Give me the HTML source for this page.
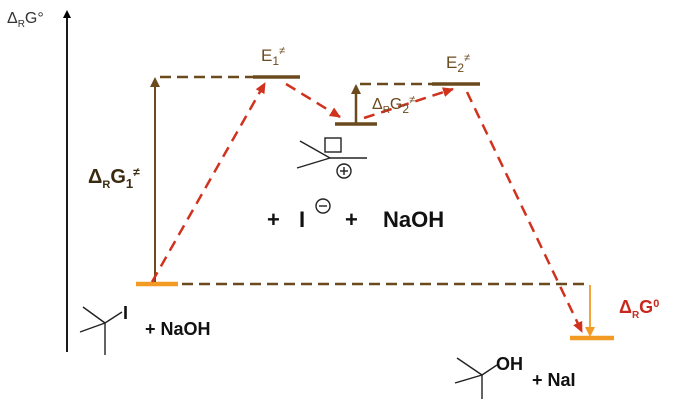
<!DOCTYPE html>
<html><head><meta charset="utf-8"><style>
html,body{margin:0;padding:0;background:#fff;}
svg{display:block;}
text{font-family:"Liberation Sans",sans-serif;}
</style></head><body>
<svg width="693" height="402" viewBox="0 0 693 402" xmlns="http://www.w3.org/2000/svg">
<defs>
<marker id="ab" markerWidth="8" markerHeight="8" refX="6" refY="4" orient="auto" markerUnits="userSpaceOnUse"><path d="M0,0 L8,4 L0,8 z" fill="#000"/></marker>
<marker id="br" markerWidth="10" markerHeight="10" refX="8" refY="5" orient="auto" markerUnits="userSpaceOnUse"><path d="M0,0 L10,5 L0,10 z" fill="#6b4a1e"/></marker>
<marker id="rd" markerWidth="12" markerHeight="12" refX="10" refY="6" orient="auto" markerUnits="userSpaceOnUse"><path d="M0,1 L11,6 L0,11 z" fill="#d0321e"/></marker>
<marker id="or" markerWidth="10" markerHeight="10" refX="8" refY="5" orient="auto" markerUnits="userSpaceOnUse"><path d="M0,0 L10,5 L0,10 z" fill="#f39a24"/></marker>
</defs>
<line x1="67" y1="352" x2="67" y2="12" stroke="#000" stroke-width="1.8" marker-end="url(#ab)"/>
<text x="7" y="23" font-size="16" fill="#333">Δ<tspan font-size="10" dy="4">R</tspan><tspan dy="-4">G°</tspan></text>
<g stroke="#6b4a1e" stroke-width="2.5" stroke-dasharray="11,6" fill="none">
<line x1="160" y1="77" x2="255" y2="77"/>
<line x1="360" y1="84" x2="432" y2="84"/>
<line x1="182" y1="284" x2="590" y2="284"/>
</g>
<g stroke="#6b4a1e" stroke-width="3.5">
<line x1="253" y1="77" x2="300" y2="77"/>
<line x1="335" y1="124" x2="377" y2="124"/>
<line x1="432" y1="84" x2="480" y2="84"/>
</g>
<line x1="136" y1="284" x2="178" y2="284" stroke="#f39a24" stroke-width="4.5"/>
<line x1="570" y1="338" x2="614" y2="338" stroke="#f39a24" stroke-width="4.5"/>
<line x1="155" y1="282" x2="155" y2="79" stroke="#6b4a1e" stroke-width="2" marker-end="url(#br)"/>
<line x1="356" y1="123" x2="356" y2="86" stroke="#6b4a1e" stroke-width="2.5" marker-end="url(#br)"/>
<line x1="590" y1="285" x2="590" y2="335" stroke="#f39a24" stroke-width="1.8" marker-end="url(#or)"/>
<g stroke="#d0321e" stroke-width="2.5" stroke-dasharray="11,7" fill="none">
<line x1="152" y1="282" x2="265" y2="83" marker-end="url(#rd)"/>
<line x1="286" y1="84" x2="340" y2="117" marker-end="url(#rd)"/>
<line x1="364" y1="118" x2="453" y2="89" marker-end="url(#rd)"/>
<line x1="467" y1="92" x2="582" y2="332" marker-end="url(#rd)"/>
</g>
<text x="261" y="61" font-size="17" fill="#6b4a1e">E<tspan font-size="12" dy="4">1</tspan><tspan font-size="11" dy="-11">≠</tspan></text>
<text x="446" y="68" font-size="17" fill="#6b4a1e">E<tspan font-size="12" dy="4">2</tspan><tspan font-size="11" dy="-11">≠</tspan></text>
<text x="372" y="109" font-size="16" fill="#6b4a1e">Δ<tspan font-size="10" dy="4">R</tspan><tspan dy="-4">G</tspan><tspan font-size="12" dy="4">2</tspan><tspan font-size="11" dy="-10">≠</tspan></text>
<text x="88" y="183" font-size="20" font-weight="bold" fill="#3a2a10">Δ<tspan font-size="11" dy="5">R</tspan><tspan dy="-5">G</tspan><tspan font-size="13" dy="5">1</tspan><tspan font-size="12" dy="-12">≠</tspan></text>
<text x="619" y="313" font-size="18" font-weight="bold" fill="#c8281e">Δ<tspan font-size="10" dy="5">R</tspan><tspan dy="-5">G</tspan><tspan font-size="11" dy="-6">0</tspan></text>
<g stroke="#222" stroke-width="1.4" fill="none">
<line x1="300" y1="141" x2="330" y2="158"/>
<line x1="297" y1="168" x2="330" y2="158"/>
<line x1="330" y1="158" x2="367" y2="158"/>
<rect x="325" y="138" width="16" height="14"/>
<circle cx="344" cy="171" r="7"/>
<line x1="340" y1="171" x2="348" y2="171"/>
<line x1="344" y1="167" x2="344" y2="175"/>
<circle cx="323" cy="206" r="7"/>
<line x1="319" y1="206" x2="327" y2="206"/>
</g>
<text x="267" y="227" font-size="22" font-weight="bold" fill="#111">+</text>
<text x="299" y="227" font-size="22" font-weight="bold" fill="#111">I</text>
<text x="345" y="227" font-size="22" font-weight="bold" fill="#111">+</text>
<text x="383" y="227" font-size="22" font-weight="bold" fill="#111">NaOH</text>
<g stroke="#222" stroke-width="1.4" fill="none">
<line x1="83" y1="307" x2="105" y2="323"/>
<line x1="80" y1="332" x2="105" y2="323"/>
<line x1="105" y1="323" x2="105" y2="355"/>
<line x1="105" y1="323" x2="122" y2="312"/>
</g>
<text x="123" y="319" font-size="18" font-weight="bold" fill="#111">I</text>
<text x="145" y="335" font-size="18" font-weight="bold" fill="#111">+ NaOH</text>
<g stroke="#222" stroke-width="1.4" fill="none">
<line x1="457" y1="358" x2="482" y2="375"/>
<line x1="455" y1="383" x2="482" y2="375"/>
<line x1="482" y1="375" x2="482" y2="399"/>
<line x1="482" y1="375" x2="497" y2="365"/>
</g>
<text x="496" y="370" font-size="18" font-weight="bold" fill="#111">OH</text>
<text x="532" y="386" font-size="18" font-weight="bold" fill="#111">+ NaI</text>
</svg>
</body></html>
